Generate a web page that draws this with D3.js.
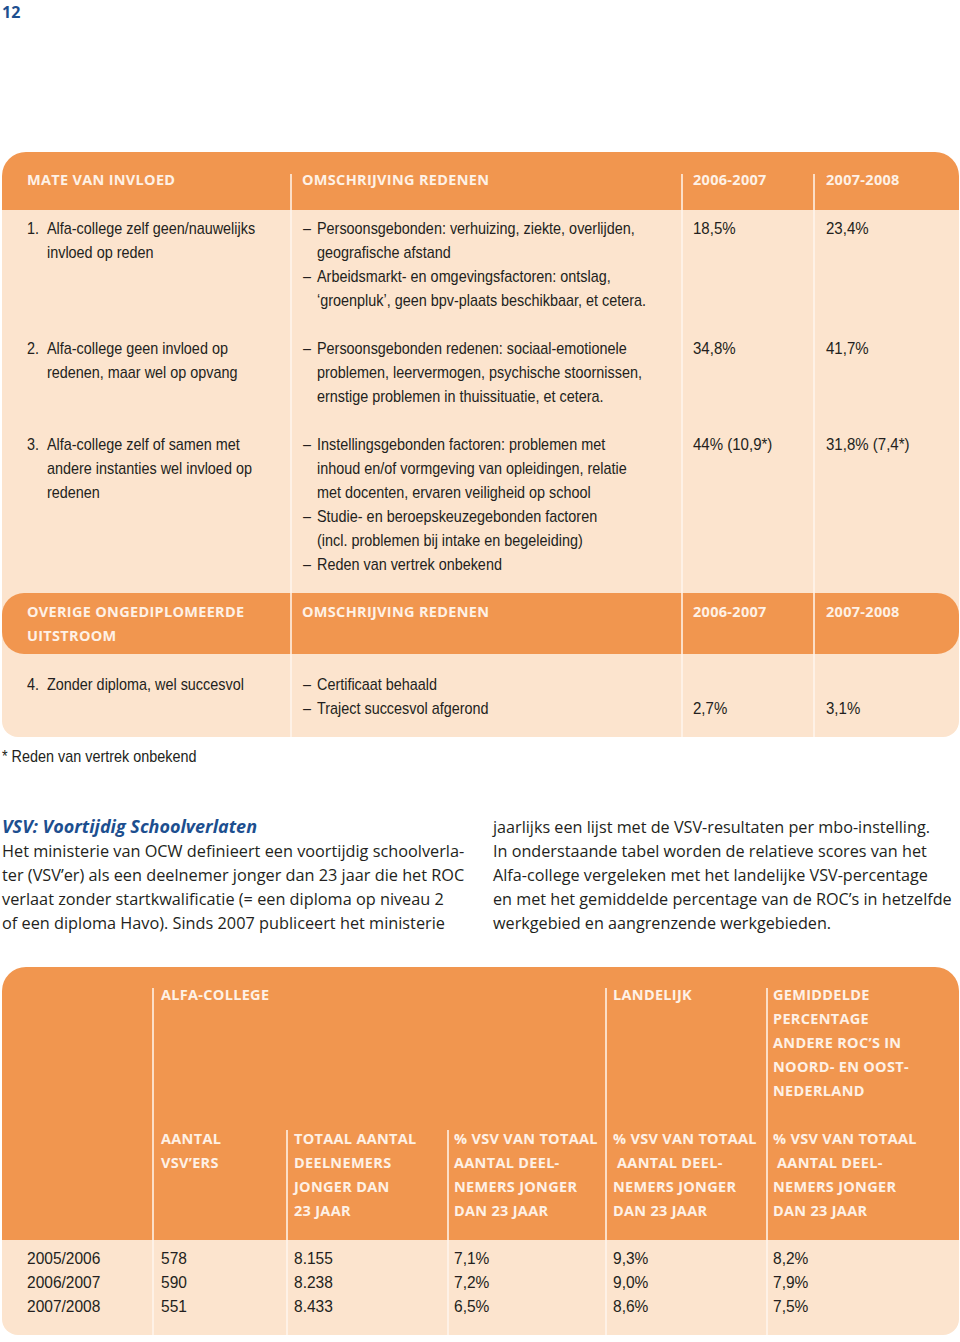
<!DOCTYPE html>
<html><head><meta charset="utf-8">
<script src="https://cdn.jsdelivr.net/npm/d3@7"></script>
<style>
body{margin:0;background:#fff}
svg{display:block}
text{white-space:pre}
</style>
</head><body><svg id="c" width="960" height="1342"></svg>
<script>
// ---------------- DATA ----------------
const pageNumber = "12";
const t1Headers = [["MATE VAN INVLOED"],["OMSCHRIJVING REDENEN"],["2006-2007"],["2007-2008"]];
const t1Headers2 = [["OVERIGE ONGEDIPLOMEERDE","UITSTROOM"],["OMSCHRIJVING REDENEN"],["2006-2007"],["2007-2008"]];
const t1Numbers = ["1.","2.","3.","4."];
const t1Categories = [
  ["Alfa-college zelf geen/nauwelijks","invloed op reden"],
  ["Alfa-college geen invloed op","redenen, maar wel op opvang"],
  ["Alfa-college zelf of samen met","andere instanties wel invloed op","redenen"],
  ["Zonder diploma, wel succesvol"]
];
const t1Descriptions = [
  [["–","Persoonsgebonden: verhuizing, ziekte, overlijden,"],["","geografische afstand"],["–","Arbeidsmarkt- en omgevingsfactoren: ontslag,"],["","‘groenpluk’, geen bpv-plaats beschikbaar, et cetera."]],
  [["–","Persoonsgebonden redenen: sociaal-emotionele"],["","problemen, leervermogen, psychische stoornissen,"],["","ernstige problemen in thuissituatie, et cetera."]],
  [["–","Instellingsgebonden factoren: problemen met"],["","inhoud en/of vormgeving van opleidingen, relatie"],["","met docenten, ervaren veiligheid op school"],["–","Studie- en beroepskeuzegebonden factoren"],["","(incl. problemen bij intake en begeleiding)"],["–","Reden van vertrek onbekend"]],
  [["–","Certificaat behaald"],["–","Traject succesvol afgerond"]]
];
const t1Values0607 = ["18,5%","34,8%","44% (10,9*)","2,7%"];
const t1Values0708 = ["23,4%","41,7%","31,8% (7,4*)","3,1%"];
const t1Section = [1,1,1,2];
const footnote = "* Reden van vertrek onbekend";

const vsvTitle = "VSV: Voortijdig Schoolverlaten";
const vsvLeft = [
  "Het ministerie van OCW definieert een voortijdig schoolverla-",
  "ter (VSV’er) als een deelnemer jonger dan 23 jaar die het ROC",
  "verlaat zonder startkwalificatie (= een diploma op niveau 2",
  "of een diploma Havo). Sinds 2007 publiceert het ministerie"
];
const vsvRight = [
  "jaarlijks een lijst met de VSV-resultaten per mbo-instelling.",
  "In onderstaande tabel worden de relatieve scores van het",
  "Alfa-college vergeleken met het landelijke VSV-percentage",
  "en met het gemiddelde percentage van de ROC’s in hetzelfde",
  "werkgebied en aangrenzende werkgebieden."
];

const t2GroupCols = [1,4,5];
const t2GroupLabels = [["ALFA-COLLEGE"],["LANDELIJK"],["GEMIDDELDE","PERCENTAGE","ANDERE ROC’S IN","NOORD- EN OOST-","NEDERLAND"]];
const t2SubHeaders = [
  [],
  ["AANTAL","VSV’ERS"],
  ["TOTAAL AANTAL","DEELNEMERS","JONGER DAN","23 JAAR"],
  ["% VSV VAN TOTAAL","AANTAL DEEL-","NEMERS JONGER","DAN 23 JAAR"],
  ["% VSV VAN TOTAAL"," AANTAL DEEL-","NEMERS JONGER","DAN 23 JAAR"],
  ["% VSV VAN TOTAAL"," AANTAL DEEL-","NEMERS JONGER","DAN 23 JAAR"]
];
const t2Years = ["2005/2006","2006/2007","2007/2008"];
const t2AantalVsv = [578,590,551];
const t2Totaal = [8155,8238,8433];
const t2PctAlfa = [7.1,7.2,6.5];
const t2PctLandelijk = [9.3,9.0,8.6];
const t2PctRegio = [8.2,7.9,7.5];

// ---------------- STYLE ----------------
const ORANGE = "#F1964F", PEACH = "#FCE4CE", HEAD_TXT = "#FEF1E6", INK = "#231F20", BLUE = "#1D4F8F";
const BODY_FONT = "'Liberation Sans','Arial',sans-serif";
const HEAD_FONT = "'Open Sans','DejaVu Sans',sans-serif";
const PARA_FONT = "'Open Sans','Noto Sans',sans-serif";

const nl = d3.formatLocale({decimal:",", thousands:".", grouping:[3], currency:["€",""]});
const fmtInt = nl.format(",d");
const fmtPct = v => nl.format(".1f")(v) + "%";

const svg = d3.select("#c");

function rr(x,y,w,h,tl,tr,br,bl){
  const p = d3.path();
  p.moveTo(x+tl,y); p.lineTo(x+w-tr,y);
  if(tr) p.arcTo(x+w,y,x+w,y+tr,tr);
  p.lineTo(x+w,y+h-br);
  if(br) p.arcTo(x+w,y+h,x+w-br,y+h,br);
  p.lineTo(x+bl,y+h);
  if(bl) p.arcTo(x,y+h,x,y+h-bl,bl);
  p.lineTo(x,y+tl);
  if(tl) p.arcTo(x,y,x+tl,y,tl);
  p.closePath();
  return p.toString();
}

function addText(g, x, y, str, opt={}){
  const sx = opt.sx || 1;
  return g.append("text").attr("x",0).attr("y",0).attr("dy","0.35em")
    .attr("transform",`translate(${x},${y}) scale(${sx},1)`)
    .attr("font-family",opt.font||BODY_FONT).attr("font-size",opt.size||16)
    .attr("font-weight",opt.weight||"normal").attr("font-style",opt.style||"normal")
    .attr("letter-spacing",opt.ls||0)
    .attr("fill",opt.fill||INK).text(str);
}
const headOpt = {font:HEAD_FONT, size:14.5, weight:"bold", ls:0.3, fill:HEAD_TXT};
const b1 = {sx:0.9}, v1 = {sx:0.94}, b2 = {sx:0.97};

// page number
addText(svg, 2, 12, pageNumber, {font:HEAD_FONT, size:16, weight:"bold", fill:BLUE});

// ---------------- TABLE 1 ----------------
const t1 = svg.append("g");
const t1x = d3.scaleOrdinal().domain([0,1,2,3]).range([27,302,693,826]);
const t1Div = [291,682,814];
const slotY = d3.scaleLinear().domain([0,1]).range([228,252]);

// compute row slots on the 24px line grid
const rowSlot = [];
let head2Slot = 0;
let s = 0;
t1Categories.forEach((c,i)=>{
  if(i>0 && t1Section[i]!==t1Section[i-1]){ head2Slot = s; s += t1Headers2[0].length + 1; }
  rowSlot.push(s);
  s += Math.max(c.length, t1Descriptions[i].length) + 1;
});

// backgrounds
t1.append("path").attr("d", rr(2,210,957,527,0,0,16,16)).attr("fill",PEACH);
t1.append("path").attr("d", rr(2,152,957,58,24,24,0,0)).attr("fill",ORANGE);
t1.append("path").attr("d", rr(2,593,957,61,22,22,22,22)).attr("fill",ORANGE);
// dividers
t1.selectAll("line.d1").data(t1Div).join("line")
  .attr("x1",d=>d).attr("x2",d=>d).attr("y1",174).attr("y2",737)
  .attr("stroke","#FFF6EE").attr("stroke-width",1.5);

// headers
t1Headers.forEach((h,i)=>h.forEach((l,j)=>addText(t1, t1x(i), slotY(-2+j), l, headOpt)));
t1Headers2.forEach((h,i)=>h.forEach((l,j)=>addText(t1, t1x(i), slotY(head2Slot+j), l, headOpt)));

// rows
t1Categories.forEach((cat,i)=>{
  const r = rowSlot[i];
  addText(t1, t1x(0), slotY(r), t1Numbers[i], b1);
  cat.forEach((l,j)=>addText(t1, t1x(0)+20, slotY(r+j), l, b1));
  t1Descriptions[i].forEach((d,j)=>{
    if(d[0]) addText(t1, t1x(1)+1, slotY(r+j), d[0], b1);
    addText(t1, t1x(1)+15, slotY(r+j), d[1], b1);
  });
  const vSlot = t1Section[i]===2 ? r + t1Descriptions[i].length - 1 : r;
  addText(t1, t1x(2), slotY(vSlot), t1Values0607[i], v1);
  addText(t1, t1x(3), slotY(vSlot), t1Values0708[i], v1);
});
addText(svg, 2, slotY(s), footnote, b1);

// ---------------- VSV TEXT ----------------
const py = d3.scaleLinear().domain([0,1]).range([827,851]);
addText(svg, 2, py(0), vsvTitle, {font:PARA_FONT, size:18, weight:"bold", style:"italic", fill:BLUE});
vsvLeft.forEach((l,j)=>addText(svg, 2, py(j+1), l, {font:PARA_FONT, size:16.3}));
vsvRight.forEach((l,j)=>addText(svg, 493, py(j), l, {font:PARA_FONT, size:16.2}));

// ---------------- TABLE 2 ----------------
const t2 = svg.append("g");
const t2x = d3.scaleOrdinal().domain([0,1,2,3,4,5]).range([27,161,294,454,613,773]);
const t2y = d3.scaleLinear().domain([0,1]).range([995,1019]);
t2.append("path").attr("d", rr(2,1240,957,95,0,0,16,16)).attr("fill",PEACH);
t2.append("path").attr("d", rr(2,967,957,273,24,24,0,0)).attr("fill",ORANGE);
const t2Div = [{x:153,top:988},{x:287,top:1130},{x:448,top:1130},{x:606,top:988},{x:767,top:988}];
t2.selectAll("line.d2").data(t2Div).join("line")
  .attr("x1",d=>d.x).attr("x2",d=>d.x).attr("y1",d=>d.top).attr("y2",1335)
  .attr("stroke","#FFF6EE").attr("stroke-width",1.5);

t2GroupLabels.forEach((g,i)=>g.forEach((l,j)=>addText(t2, t2x(t2GroupCols[i]), t2y(j), l, headOpt)));
t2SubHeaders.forEach((h,i)=>h.forEach((l,j)=>addText(t2, t2x(i), t2y(6+j), l, headOpt)));

const t2Cols = [
  t2Years,
  t2AantalVsv.map(v=>String(v)),
  t2Totaal.map(fmtInt),
  t2PctAlfa.map(fmtPct),
  t2PctLandelijk.map(fmtPct),
  t2PctRegio.map(fmtPct)
];
t2Cols.forEach((col,i)=>col.forEach((v,j)=>addText(t2, t2x(i), t2y(11+j)-1, v, b2)));
</script>
</body></html>
